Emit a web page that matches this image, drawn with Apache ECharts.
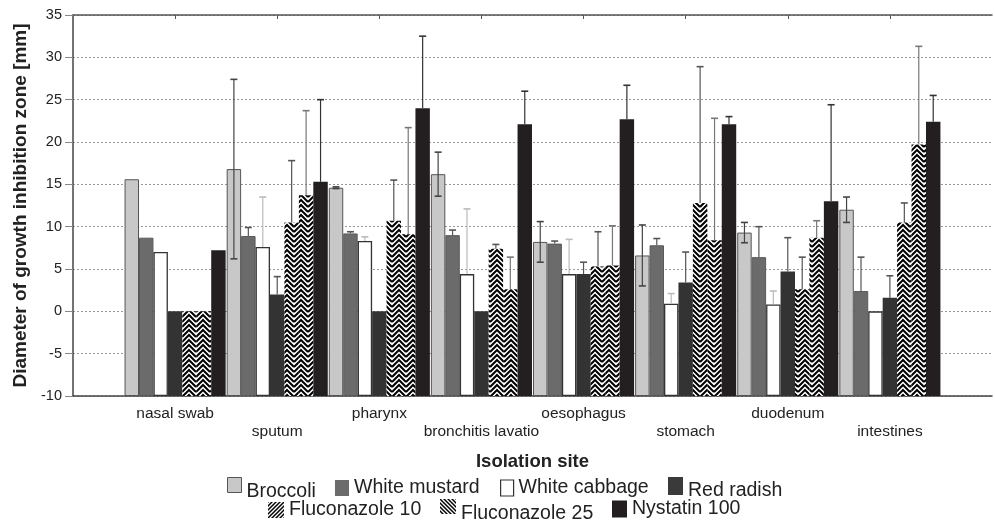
<!DOCTYPE html>
<html>
<head>
<meta charset="utf-8">
<script src="https://cdn.jsdelivr.net/npm/echarts@6/dist/echarts.min.js"></script>
<style>
html,body{margin:0;padding:0;background:#fff;}
#chart{width:995px;height:520px;}
</style>
</head>
<body>
<div id="chart"></div>
<script>
// ---- data ----
const categories = ['nasal swab','sputum','pharynx','bronchitis lavatio','oesophagus','stomach','duodenum','intestines'];
const seriesNames = ['Broccoli','White mustard','White cabbage','Red radish','Fluconazole 10','Fluconazole 25','Nystatin 100'];
const broccoli        = [15.6, 16.8, 14.6, 16.2, 8.2, 6.6, 9.3, 12.0];
const broccoliErr     = [null, 10.6, 0.1, 2.6, 2.4, 3.6, 1.2, 1.5];
const whiteMustard    = [8.7, 8.9, 9.2, 9.0, 8.0, 7.8, 6.4, 2.4];
const whiteMustardErr = [null, 1.0, 0.2, 0.6, 0.3, 0.8, 3.6, 4.0];
const whiteCabbage    = [7.0, 7.6, 8.3, 4.4, 4.4, 0.9, 0.8, 0.0];
const whiteCabbageErr = [null, 5.9, 0.5, 7.7, 4.1, 1.2, 1.6, null];
const redRadish       = [0, 2.0, 0, 0, 4.4, 3.4, 4.7, 1.6];
const redRadishErr    = [null, 2.1, null, null, 1.4, 3.6, 4.0, 2.6];
const fluconazole10   = [0, 10.5, 10.7, 7.4, 5.3, 12.8, 2.6, 10.5];
const fluconazole10Err= [null, 7.3, 4.8, 0.5, 4.1, 16.1, 3.8, 2.3];
const fluconazole25   = [0, 13.7, 9.1, 2.6, 5.4, 8.4, 8.7, 19.7];
const fluconazole25Err= [null, 10.0, 12.6, 3.8, 4.7, 14.4, 2.0, 11.6];
const nystatin100     = [7.2, 15.3, 24.0, 22.1, 22.7, 22.1, 13.0, 22.4];
const nystatin100Err  = [null, 9.7, 8.5, 3.9, 4.0, 0.9, 11.4, 3.1];
const yTicks = {min: -10, max: 35, interval: 5};

// ---- patterns ----
function chevronPattern(){
  const c = document.createElement('canvas'); c.width = 14; c.height = 10;
  const g = c.getContext('2d');
  g.fillStyle = '#fff'; g.fillRect(0,0,14,10);
  g.strokeStyle = '#000'; g.lineWidth = 2;
  for (let k=-3;k<=4;k++){
    g.beginPath();
    g.moveTo(0,5*k+7); g.lineTo(7,5*k); g.lineTo(14,5*k+7);
    g.stroke();
  }
  return {image:c, repeat:'repeat'};
}
function stripePattern(dir){
  const c = document.createElement('canvas'); c.width = 4; c.height = 4;
  const g = c.getContext('2d');
  g.fillStyle = '#fff'; g.fillRect(0,0,4,4);
  g.strokeStyle = '#000'; g.lineWidth = 1.5;
  for (let k=-1;k<=1;k++){
    g.beginPath();
    if (dir>0){ g.moveTo(-1+4*k,5); g.lineTo(5+4*k,-1); }
    else { g.moveTo(-1+4*k,-1); g.lineTo(5+4*k,5); }
    g.stroke();
  }
  return {image:c, repeat:'repeat'};
}
const chev = chevronPattern();

const FONT = 'Liberation Sans, Arial, Helvetica, sans-serif';
const values = [broccoli, whiteMustard, whiteCabbage, redRadish, fluconazole10, fluconazole25, nystatin100];
const errors = [broccoliErr, whiteMustardErr, whiteCabbageErr, redRadishErr, fluconazole10Err, fluconazole25Err, nystatin100Err];
const barStyles = [
  {color:'#c8c8c8', borderColor:'#555', borderWidth:1},
  {color:'#6b6b6b', borderColor:'#5a5a5a', borderWidth:1},
  {color:'#ffffff', borderColor:'#333', borderWidth:1.3},
  {color:'#333333', borderColor:'#333', borderWidth:0},
  {color:chev, borderWidth:0},
  {color:chev, borderWidth:0},
  {color:'#231f20', borderWidth:0}
];
const errColors = ['#444','#555','#bbb','#555','#555','#777','#333'];

const xData = [''].concat(categories, ['']);
const pad = arr => [null].concat(arr, [null]);

const series = [];
values.forEach((vals, s) => {
  series.push({
    name: seriesNames[s], type:'bar', data: pad(vals),
    barGap: 0, barCategoryGap: '1%', itemStyle: barStyles[s], z: 2, silent: true
  });
});
errors.forEach((errs, s) => {
  const data = [];
  values[s].forEach((v,i) => { if (errs[i] != null) data.push([i+1, v, errs[i]]); });
  const both = (s === 0);
  series.push({
    type:'custom', z: 5, silent:true, data, encode:{x:0, y:1},
    renderItem(params, api){
      const xi = api.value(0), v = api.value(1), e = api.value(2);
      const band = api.size([1,0])[0];
      const bw = band*0.99/7;
      const cx = api.coord([xi, v])[0] + (s-3)*bw;
      const yTop = api.coord([xi, v+e])[1];
      const yBot = api.coord([xi, both ? v-e : v])[1];
      const cap = 3.5, col = errColors[s];
      const ch = [
        {type:'line', shape:{x1:cx,y1:yTop,x2:cx,y2:yBot}, style:{stroke:col, lineWidth:1.2}},
        {type:'line', shape:{x1:cx-cap,y1:yTop,x2:cx+cap,y2:yTop}, style:{stroke:col, lineWidth:1.6}}
      ];
      if (both) ch.push({type:'line', shape:{x1:cx-cap,y1:yBot,x2:cx+cap,y2:yBot}, style:{stroke:col, lineWidth:1.6}});
      return {type:'group', children: ch};
    }
  });
});

// ---- legends ----
const legendDefs = [
  {name:'Broccoli', left:227, top:477, w:14, h:15, style:{color:'#c8c8c8', borderColor:'#555', borderWidth:1}, low:14},
  {name:'White mustard', left:335, top:478, w:14, h:16, style:{color:'#6b6b6b', borderWidth:0}, low:0},
  {name:'White cabbage', left:500, top:478, w:13, h:16, style:{color:'#fff', borderColor:'#333', borderWidth:1.2}, low:0},
  {name:'Red radish', left:668, top:477, w:15, h:18, style:{color:'#3a3a3a', borderWidth:0}, low:10},
  {name:'Fluconazole 10', left:268, top:500, w:16, h:16, style:{color:stripePattern(1), borderWidth:0}, low:0},
  {name:'Fluconazole 25', left:440, top:499, w:16, h:15, style:{color:stripePattern(-1), borderWidth:0}, low:14},
  {name:'Nystatin 100', left:612, top:499, w:15, h:17, style:{color:'#231f20', borderWidth:0}, low:0}
];
const legends = legendDefs.map(d => ({
  left: d.left, top: d.top, padding: 0, itemWidth: d.w, itemHeight: d.h, icon:'rect',
  selectedMode: false,
  data: [{name: d.name, icon:'rect', itemStyle: d.style}],
  formatter: name => d.low ? '{low|' + name + '}' : name,
  textStyle: {fontFamily: FONT, fontSize: 19.5, color:'#222',
    rich: {low: {fontFamily: FONT, fontSize: 19.5, color:'#222', padding: [d.low,0,0,0]}}}
}));

const option = {
  animation: false,
  backgroundColor: '#fff',
  grid: {left: 73, top: 15, right: -5, bottom: 124},
  legend: legends,
  xAxis: [{
    type:'category', data: xData, boundaryGap: false, position:'bottom',
    axisLine: {show:true, onZero:false, lineStyle:{color:'#444', width:1.5}},
    axisTick: {show:false},
    splitLine: {show:false},
    axisLabel: {
      interval: 0, margin: 9, fontFamily: FONT, fontSize: 15.5, color:'#222', lineHeight: 17.5,
      formatter: (val, idx) => (idx % 2 === 0 && val) ? '\n' + val : val
    },
    name: 'Isolation site', nameLocation: 'middle', nameGap: 56,
    nameTextStyle: {fontFamily: FONT, fontSize: 18.5, fontWeight:'bold', color:'#222'}
  }, {
    type:'category', data: xData, boundaryGap: false, position:'top',
    axisLine: {show:true, onZero:false, lineStyle:{color:'#555', width:1.5}},
    axisTick: {show:true, inside:true, length:4, interval: i => i>0 && i<9, lineStyle:{color:'#555'}},
    axisLabel: {show:false}, splitLine:{show:false}
  }],
  yAxis: {
    type:'value', min: yTicks.min, max: yTicks.max, interval: yTicks.interval, startValue: -10,
    axisLine: {show:true, onZero:false, lineStyle:{color:'#444', width:1.5}},
    axisTick: {show:true, length:8, lineStyle:{color:'#888'}},
    axisLabel: {margin: 11, fontFamily: FONT, fontSize: 14.5, color:'#222'},
    splitLine: {show:true, lineStyle:{color:'#999', width:1, type:[2,2]}},
    name: 'Diameter of growth inhibition zone [mm]', nameLocation:'middle', nameGap: 42, nameRotate: 90,
    nameTextStyle: {fontFamily: FONT, fontSize: 19, fontWeight:'bold', color:'#222'}
  },
  series
};
const chart = echarts.init(document.getElementById('chart'), null, {renderer:'canvas'});
chart.setOption(option);
</script>
</body>
</html>
